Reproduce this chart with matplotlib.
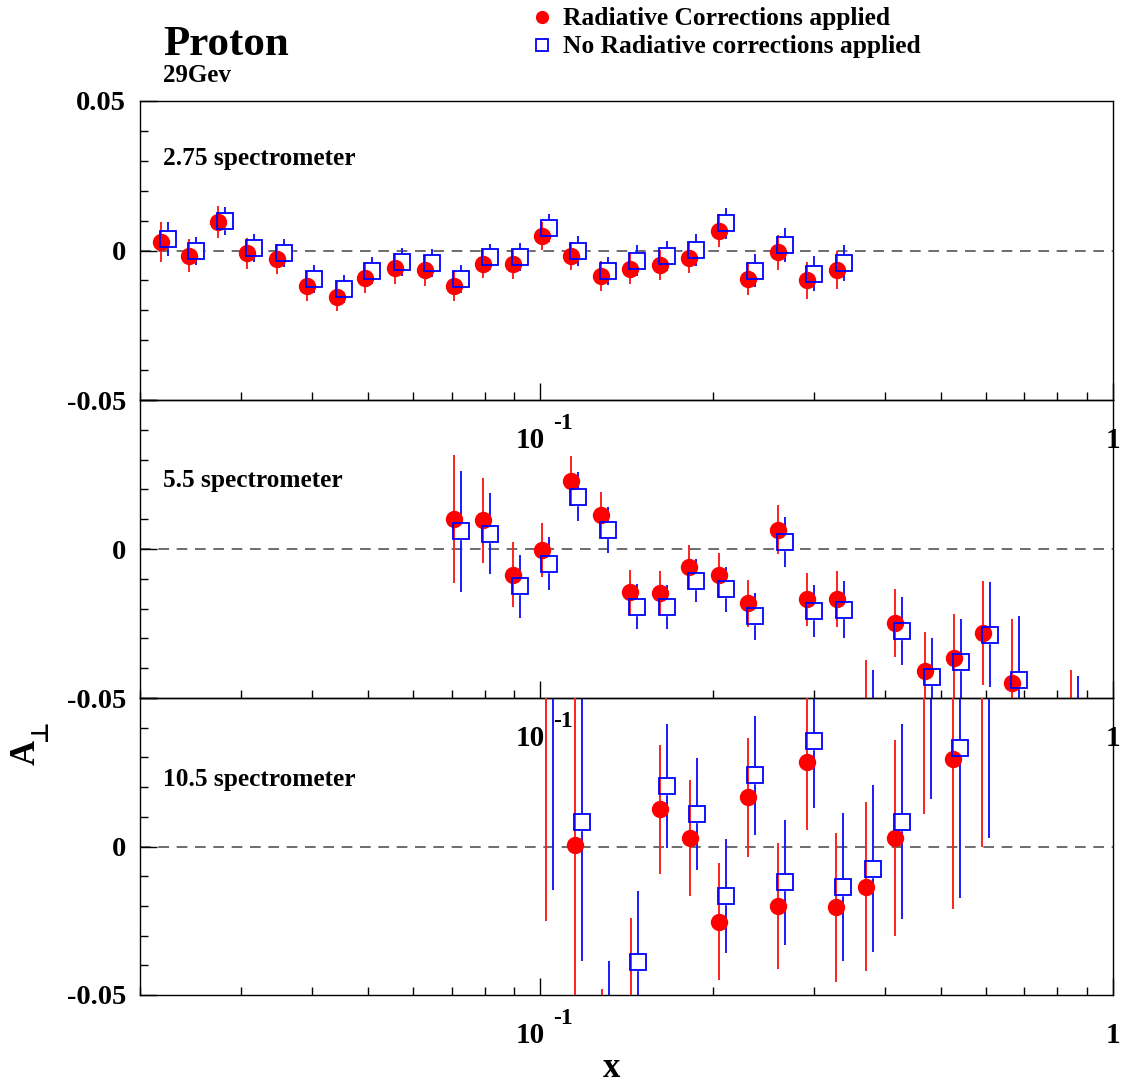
import matplotlib
matplotlib.use('Agg')
import matplotlib.pyplot as plt
from matplotlib.transforms import offset_copy
from matplotlib.ticker import FixedLocator, NullFormatter
from matplotlib.lines import Line2D

plt.rcParams['font.family'] = ['Liberation Serif', 'DejaVu Serif']
plt.rcParams['font.weight'] = 'bold'
plt.rcParams['axes.unicode_minus'] = False

# ---------------- data ----------------
panel_names = ["2.75 spectrometer", "5.5 spectrometer", "10.5 spectrometer"]

x_275 = [0.0218, 0.0244, 0.0274, 0.0308, 0.0347, 0.0391, 0.0441, 0.0494, 0.0557, 0.0629,
         0.0706, 0.0795, 0.0895, 0.1007, 0.1133, 0.1276, 0.1436, 0.1618, 0.1820, 0.2049,
         0.2308, 0.2598, 0.2922, 0.3293]
a_275_rc = [0.0029, -0.0017, 0.0095, -0.0010, -0.0028, -0.0119, -0.0154, -0.0093, -0.0059, -0.0066,
            -0.0119, -0.0046, -0.0046, 0.0048, -0.0019, -0.0086, -0.0061, -0.0047, -0.0024, 0.0066,
            -0.0095, -0.0006, -0.0100, -0.0064]
e_275_rc = [0.0067, 0.0054, 0.0054, 0.0052, 0.0050, 0.0050, 0.0050, 0.0050, 0.0052, 0.0052,
            0.0050, 0.0047, 0.0048, 0.0047, 0.0047, 0.0050, 0.0052, 0.0050, 0.0052, 0.0055,
            0.0055, 0.0059, 0.0061, 0.0064]
a_275_no = [0.0037, -0.0001, 0.0099, 0.0009, -0.0009, -0.0094, -0.0128, -0.0068, -0.0038, -0.0043,
            -0.0095, -0.0021, -0.0021, 0.0074, -0.0001, -0.0069, -0.0034, -0.0019, 0.0002, 0.0091,
            -0.0067, 0.0019, -0.0078, -0.0041]
e_275_no = [0.0057, 0.0046, 0.0046, 0.0046, 0.0046, 0.0047, 0.0047, 0.0045, 0.0047, 0.0047,
            0.0047, 0.0044, 0.0046, 0.0047, 0.0050, 0.0048, 0.0051, 0.0050, 0.0054, 0.0051,
            0.0054, 0.0057, 0.0059, 0.0061]

x_55 = [0.0706, 0.0795, 0.0895, 0.1007, 0.1133, 0.1276, 0.1436, 0.1618, 0.1820, 0.2049,
        0.2308, 0.2598, 0.2922, 0.3293, 0.3704, 0.4168, 0.4690, 0.5283, 0.5922, 0.6671, 0.8447]
a_55_rc = [0.0101, 0.0096, -0.0086, -0.0003, 0.0228, 0.0113, -0.0145, -0.0147, -0.0059, -0.0088,
           -0.0182, 0.0064, -0.0168, -0.0168, -0.0560, -0.0248, -0.0408, -0.0367, -0.0282, -0.0449, -0.0755]
e_55_rc = [0.0214, 0.0143, 0.0109, 0.0090, 0.0083, 0.0077, 0.0075, 0.0074, 0.0072, 0.0076,
           0.0079, 0.0082, 0.0089, 0.0095, 0.0189, 0.0114, 0.0131, 0.0148, 0.0176, 0.0215, 0.0350]
a_55_no = [0.0059, 0.0052, -0.0125, -0.0049, 0.0176, 0.0063, -0.0193, -0.0195, -0.0107, -0.0135,
           -0.0225, 0.0023, -0.0208, -0.0204, -0.0595, -0.0275, -0.0428, -0.0379, -0.0287, -0.0441, -0.0770]
e_55_no = [0.0202, 0.0137, 0.0105, 0.0090, 0.0083, 0.0077, 0.0076, 0.0075, 0.0072, 0.0076,
           0.0079, 0.0084, 0.0088, 0.0095, 0.0190, 0.0114, 0.0129, 0.0145, 0.0176, 0.0215, 0.0345]

x_105 = [0.1022, 0.1150, 0.1281, 0.1442, 0.1618, 0.1822, 0.2051, 0.2308, 0.2596, 0.2921,
         0.3283, 0.3704, 0.4168, 0.4683, 0.5258, 0.5899]
a_105_rc = [0.0650, 0.0006, -0.0700, -0.0560, 0.0126, 0.0028, -0.0254, 0.0165, -0.0200, 0.0285,
            -0.0204, -0.0135, 0.0029, 0.0600, 0.0293, 0.0620]
e_105_rc = [0.0900, 0.0750, 0.0220, 0.0320, 0.0217, 0.0195, 0.0197, 0.0202, 0.0213, 0.0228,
            0.0251, 0.0284, 0.0329, 0.0490, 0.0502, 0.0620]
a_105_no = [0.0700, 0.0081, -0.0620, -0.0389, 0.0205, 0.0110, -0.0166, 0.0240, -0.0121, 0.0354,
            -0.0135, -0.0075, 0.0084, 0.0650, 0.0330, 0.0650]
e_105_no = [0.0846, 0.0465, 0.0235, 0.0238, 0.0209, 0.0189, 0.0192, 0.0200, 0.0211, 0.0225,
            0.0249, 0.0281, 0.0327, 0.0490, 0.0502, 0.0620]

y_ticks = [-0.05, 0.0, 0.05]
y_labels_top = ["-0.05", "0", "0.05"]
y_labels_low = ["-0.05", "0", ""]
y_minor = [-0.04, -0.03, -0.02, -0.01, 0.01, 0.02, 0.03, 0.04]
x_minor = [0.02, 0.03, 0.04, 0.05, 0.06, 0.07, 0.08, 0.09, 0.2, 0.3, 0.4, 0.5, 0.6, 0.7, 0.8, 0.9]

panels = [
    (x_275, a_275_rc, e_275_rc, a_275_no, e_275_no),
    (x_55, a_55_rc, e_55_rc, a_55_no, e_55_no),
    (x_105, a_105_rc, e_105_rc, a_105_no, e_105_no),
]

# ---------------- figure ----------------
FW, FH = 1126, 1084
fig = plt.figure(figsize=(FW / 100, FH / 100), dpi=100)
L, W = 140 / FW, 973 / FW
bounds = [(101, 400), (400, 698), (698, 995)]
label_y = [0.786, 0.708, 0.704]

for i, ((top, bot), data) in enumerate(zip(bounds, panels)):
    ax = fig.add_axes([L, 1 - bot / FH, W, (bot - top) / FH])
    ax.set_facecolor('none')
    x, arc, erc, ano, eno = data
    ax.set_xscale('log')
    ax.set_xlim(0.02, 1)
    ax.set_ylim(-0.05, 0.05)

    ax.axhline(0, color='#444444', lw=1.1, ls=(0, (7, 5)), zorder=1)

    tr_blue = offset_copy(ax.transData, fig=fig, x=7, y=0, units='dots')
    ax.errorbar(x, ano, yerr=eno, fmt='s', ms=12, mfc='white', mec='white',
                ecolor='#1a1aff', elinewidth=1.4, capsize=0, transform=tr_blue, zorder=2)
    ax.errorbar(x, arc, yerr=erc, fmt='o', ms=11.5, color='red', mec='red',
                ecolor='#ff2020', elinewidth=1.4, capsize=0, zorder=3)
    ax.plot(x, ano, 's', ms=12, mfc='none', mec='blue', mew=1.3,
            transform=tr_blue, zorder=4)

    ax.xaxis.set_major_locator(FixedLocator([0.1, 1.0]))
    ax.xaxis.set_minor_locator(FixedLocator(x_minor))
    ax.xaxis.set_major_formatter(NullFormatter())
    ax.xaxis.set_minor_formatter(NullFormatter())
    ax.yaxis.set_major_locator(FixedLocator(y_ticks))
    ax.yaxis.set_minor_locator(FixedLocator(y_minor))
    ax.set_yticklabels(y_labels_top if i == 0 else y_labels_low)
    ax.tick_params(which='both', direction='in', top=False, right=False,
                   bottom=True, left=True, width=1, colors='black')
    ax.tick_params(which='major', length=12)
    ax.tick_params(which='minor', length=6)
    ax.tick_params(axis='y', labelsize=20.5, pad=10)
    for s in ax.spines.values():
        s.set_linewidth(1.0)
        s.set_color('black')

    # log-axis labels drawn ROOT style
    ax.annotate("10", xy=(0.1, 0), xycoords=('data', 'axes fraction'),
                xytext=(3, -29), textcoords='offset points', ha='right', va='center',
                fontsize=21, fontweight='bold', annotation_clip=False)
    ax.annotate("-1", xy=(0.1, 0), xycoords=('data', 'axes fraction'),
                xytext=(9, -17), textcoords='offset points', ha='left', va='center',
                fontsize=17, fontweight='bold', annotation_clip=False)
    ax.annotate("1", xy=(1.0, 0), xycoords=('data', 'axes fraction'),
                xytext=(0, -29), textcoords='offset points', ha='center', va='center',
                fontsize=21, fontweight='bold', annotation_clip=False)

    ax.text(0.0236, label_y[i], panel_names[i], transform=ax.transAxes,
            fontsize=18.3, fontweight='bold', ha='left', va='baseline')

# headings and legend
fig.text(163 / FW, 1 - 55 / FH, "Proton", fontsize=31, fontweight='bold', ha='left', va='baseline')
fig.text(163 / FW, 1 - 82 / FH, "29Gev", fontsize=18, fontweight='bold', ha='left', va='baseline')

fig.add_artist(Line2D([542 / FW], [1 - 17 / FH], marker='o', ms=8.5, color='red',
                      mec='red', ls='none', transform=fig.transFigure))
fig.add_artist(Line2D([542 / FW], [1 - 45 / FH], marker='s', ms=9, mfc='white',
                      mec='blue', mew=1.3, ls='none', transform=fig.transFigure))
fig.text(563 / FW, 1 - 25 / FH, "Radiative Corrections applied", fontsize=18.4,
         fontweight='bold', ha='left', va='baseline')
fig.text(563 / FW, 1 - 53 / FH, "No Radiative corrections applied", fontsize=18.4,
         fontweight='bold', ha='left', va='baseline')

# y title A_perp (rotated)
fig.text(26 / FW, 1 - 752 / FH, "A", rotation=90, fontsize=25, fontweight='bold',
         ha='center', va='center')
fig.text(40 / FW, 1 - 730 / FH, "\u22a5", rotation=90, fontsize=17,
         family=['DejaVu Sans'], ha='center', va='center')
fig.text(612 / FW, 1 - 1077 / FH, "x", fontsize=25, fontweight='bold', ha='center', va='baseline')

fig.savefig('out.png', dpi=100, facecolor='white')
